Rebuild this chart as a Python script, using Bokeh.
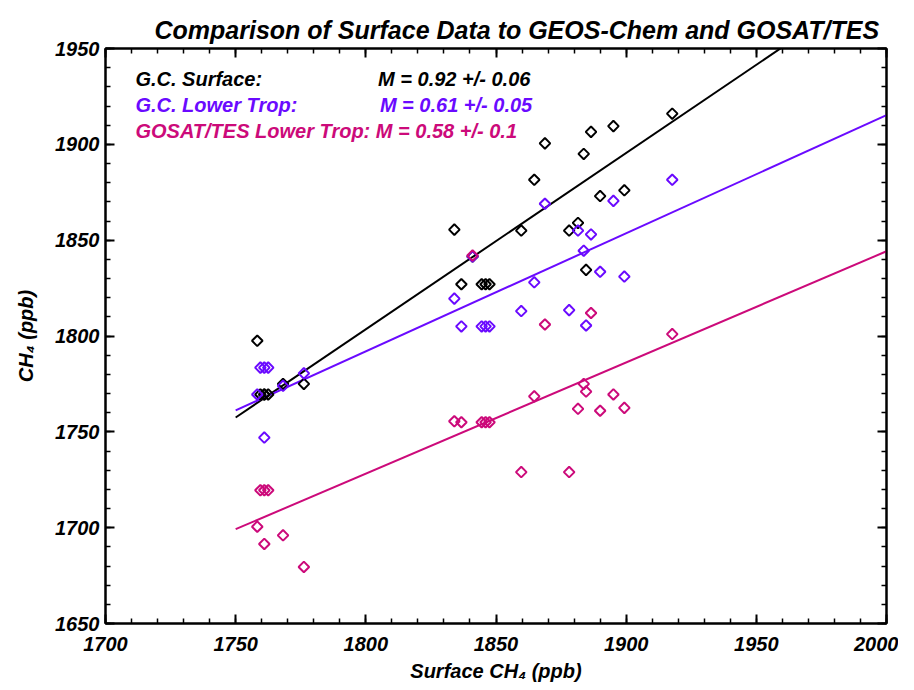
from bokeh.plotting import figure
from bokeh.models import LinearAxis, Label, SingleIntervalTicker
from bokeh.embed import file_html
from bokeh.resources import INLINE
import numpy as np

# ---- data ----
surface_ch4 = [1758.3, 1759.5, 1761.0, 1761.0, 1762.5, 1768.2, 1776.2,
               1834.0, 1836.7, 1841.0, 1844.5, 1846.0, 1847.5, 1859.7,
               1864.7, 1868.8, 1878.1, 1881.5, 1883.7, 1884.6, 1886.5,
               1890.0, 1895.1, 1899.3, 1917.7]
gc_surface = [1797.5, 1769.5, 1769.5, 1769.5, 1769.5, 1775.0, 1775.0,
              1855.5, 1827.0, 1841.5, 1827.0, 1827.0, 1827.0, 1855.0,
              1881.5, 1900.5, 1855.0, 1859.0, 1895.0, 1834.5, 1906.5,
              1873.0, 1909.5, 1876.0, 1916.0]
gc_lower_trop = [1769.5, 1783.5, 1747.0, 1783.5, 1783.5, 1774.0, 1780.5,
                 1819.5, 1805.0, 1841.5, 1805.0, 1805.0, 1805.0, 1813.0,
                 1828.0, 1869.0, 1813.5, 1855.0, 1844.5, 1805.5, 1853.0,
                 1833.5, 1870.5, 1831.0, 1881.5]
gosat_tes_lower_trop = [1700.5, 1719.5, 1691.5, 1719.5, 1719.5, 1696.0, 1679.5,
                        1755.5, 1755.0, 1842.0, 1755.0, 1755.0, 1755.0, 1729.0,
                        1768.5, 1806.0, 1729.0, 1762.0, 1775.0, 1771.0, 1812.0,
                        1761.0, 1769.5, 1762.5, 1801.0]

title_text = "Comparison of Surface Data to GEOS-Chem and GOSAT/TES"
series_names = ["G.C. Surface:", "G.C. Lower Trop:", "GOSAT/TES Lower Trop:"]
slope_text = ["M = 0.92 +/- 0.06", "M = 0.61 +/- 0.05", "M = 0.58 +/- 0.1"]
fit_slope = [0.92, 0.616, 0.58]
fit_value_at_1750 = [1757.5, 1761.2, 1699.2]
fit_x_range = [1750, 2000]
x_ticks = [1700, 1750, 1800, 1850, 1900, 1950, 2000]
y_ticks = [1650, 1700, 1750, 1800, 1850, 1900, 1950]

colors = ["#000000", "#6A0AFF", "#CC0A7A"]
FONT = "Liberation Sans"

p = figure(width=898, height=688,
           x_range=(x_ticks[0], x_ticks[-1]), y_range=(y_ticks[0], y_ticks[-1]),
           output_backend="svg", toolbar_location=None,
           min_border_left=105, min_border_right=12,
           min_border_top=48, min_border_bottom=65)

p.title.text = title_text
p.title.text_font = FONT
p.title.text_font_style = "bold italic"
p.title.text_font_size = "25px"
p.title.text_color = "black"
p.title.align = "left"
p.title.offset = 49

p.xgrid.grid_line_color = None
p.ygrid.grid_line_color = None
p.outline_line_color = "black"
p.outline_line_width = 2
p.background_fill_color = "white"
p.border_fill_color = "white"


def style_axis(ax, interval, show_labels=True):
    ax.ticker = SingleIntervalTicker(interval=interval, num_minor_ticks=5)
    ax.major_tick_in = 9
    ax.major_tick_out = 0
    ax.minor_tick_in = 5
    ax.minor_tick_out = 0
    ax.axis_line_width = 2
    ax.axis_line_color = "black"
    ax.major_tick_line_width = 2
    ax.major_tick_line_color = "black"
    ax.minor_tick_line_width = 1.5
    ax.minor_tick_line_color = "black"
    if show_labels:
        ax.major_label_text_font = FONT
        ax.major_label_text_font_style = "bold italic"
        ax.major_label_text_font_size = "20px"
        ax.major_label_text_color = "black"
        ax.axis_label_text_font = FONT
        ax.axis_label_text_font_style = "bold italic"
        ax.axis_label_text_font_size = "20px"
        ax.axis_label_text_color = "black"
    else:
        ax.major_label_text_font_size = "0px"
        ax.major_label_text_color = None


xint = x_ticks[1] - x_ticks[0]
yint = y_ticks[1] - y_ticks[0]
style_axis(p.xaxis[0], xint)
style_axis(p.yaxis[0], yint)
p.xaxis.axis_label = "Surface CH\u2084 (ppb)"
p.yaxis.axis_label = "CH\u2084 (ppb)"
p.xaxis.major_label_standoff = 13
p.yaxis.major_label_standoff = 6
p.xaxis.axis_label_standoff = 6
p.yaxis.axis_label_standoff = 15

top_ax = LinearAxis()
style_axis(top_ax, xint, show_labels=False)
top_ax.major_label_standoff = 15
p.add_layout(top_ax, "above")
right_ax = LinearAxis()
style_axis(right_ax, yint, show_labels=False)
p.add_layout(right_ax, "right")

# fit lines
xl = np.array(fit_x_range, dtype=float)
for m, a, c in zip(fit_slope, fit_value_at_1750, colors):
    p.line(xl, a + m * (xl - fit_x_range[0]), line_color=c, line_width=2)

# points (black, then purple, then pink on top)
for ys, c in zip([gc_surface, gc_lower_trop, gosat_tes_lower_trop], colors):
    p.scatter(surface_ch4, ys, marker="square", angle=np.pi / 4, size=7.5,
              fill_color=None, line_color=c, line_width=2)

# legend text
row_y = [1934.2, 1920.7, 1907.2]
for i, (name, s, c) in enumerate(zip(series_names, slope_text, colors)):
    common = dict(text_font=FONT, text_font_style="bold italic",
                  text_font_size="20px", text_color=c,
                  text_baseline="alphabetic", text_align="left")
    if i < 2:
        p.add_layout(Label(x=1711.5, y=row_y[i], text=name, **common))
        p.add_layout(Label(x=1804.7 if i == 0 else 1805.4, y=row_y[i], text=s, **common))
    else:
        p.add_layout(Label(x=1711.5, y=row_y[i], text=name + " " + s, **common))

open("out.html", "w").write(file_html(p, INLINE))
